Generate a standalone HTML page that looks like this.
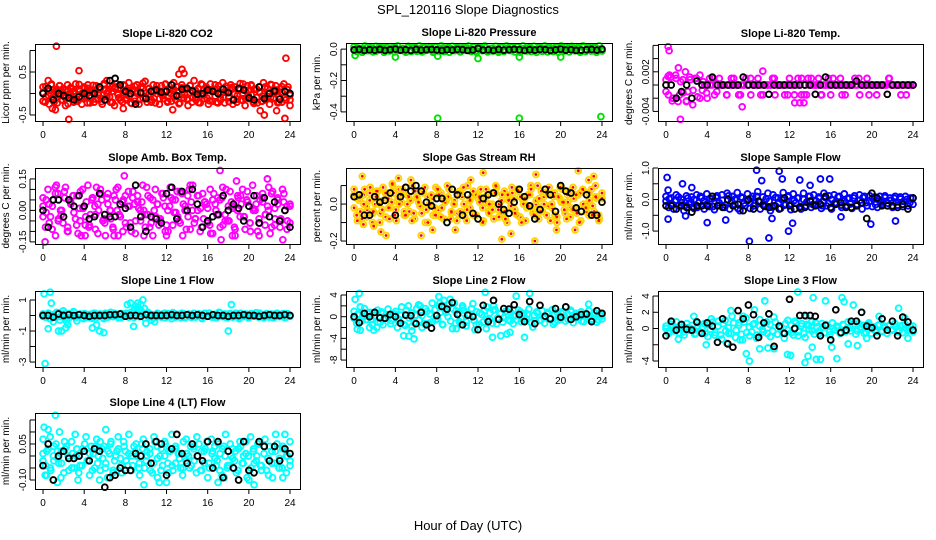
<!DOCTYPE html>
<html><head><meta charset="utf-8"><title>SPL_120116 Slope Diagnostics</title>
<style>
html,body{margin:0;padding:0;background:#fff;}
svg{display:block;font-family:"Liberation Sans",Arial,sans-serif;}
</style></head>
<body>
<svg id="chart" width="936" height="540" viewBox="0 0 936 540">
<text x="468" y="14" text-anchor="middle" font-size="13">SPL_120116  Slope Diagnostics</text>
<text x="468" y="530" text-anchor="middle" font-size="13">Hour of Day (UTC)</text>
</svg>
<script>
// ---------- data (hour-of-day series; x spread evenly over 0..24) ----------
const hourTicks=[0,4,8,12,16,20,24];
const hourLabels=["0","4","8","12","16","20","24"];

const p1Color=[0.15,-0.2,0.1,-0.25,0.2,-0.1,0.05,-0.22,0.18,-0.15,0.12,-0.28,0.2,-0.05,0.1,-0.2,0.22,-0.18,0.05,-0.25,0.15,-0.1,0.2,-0.22,0.08,-0.2,0.18,-0.12,0.1,-0.25,0.2,-0.15,0.05,-0.2,0.15,-0.28,0.22,-0.1,0.12,-0.2,0.18,-0.15,0.25,-0.22,0.1,-0.18,0.2,-0.25,0.15,-0.1,0.28,-0.2,0.12,-0.15,0.2,-0.22,0.08,-0.25,0.18,-0.12,0.22,-0.2,0.1,-0.18,0.25,-0.15,0.15,-0.22,0.2,-0.1,0.12,-0.28,0.18,-0.2,0.3,-0.15,0.1,-0.22,0.2,-0.12,0.15,-0.25,0.22,-0.18,0.1,-0.2,0.18,-0.15,0.25,-0.22,0.12,-0.1,0.2,-0.25,0.15,-0.2,0.1,-0.15,0.22,-0.28,0.18,-0.12,0.2,-0.2,0.1,-0.22,0.15,-0.18,0.25,-0.15,0.12,-0.25,0.2,-0.1,0.18,-0.22,0.1,-0.2,0.22,-0.15,0.15,-0.28];
const p1Fill=[0.02,-0.08,0.06,-0.12,0.0,0.1,-0.05,0.04,-0.1,0.08,-0.02,0.05,-0.14,0.1,0.0,-0.06,0.12,-0.1,0.03,0.07,-0.04,-0.12,0.09,0.01,-0.08,0.05,0.11,-0.03,-0.1,0.07,0.02,-0.06,0.09,-0.11,0.04,0.0,0.12,-0.08,-0.02,0.06,-0.12,0.1,0.03,-0.05,0.08,-0.1,0.0,0.11,-0.07,0.05,-0.03,0.09,-0.12,0.02,0.07,-0.09,0.12,-0.04,0.0,-0.1,0.08,0.04,-0.06,0.1,-0.11,0.03,0.06,-0.08,0.11,-0.02,-0.05,0.09,0.01,-0.12,0.07,-0.03,0.1,-0.09,0.04,-0.06,0.12,0.0,-0.1,0.05,0.08,-0.07,0.02,-0.11,0.09,-0.04];
const p1Fill2=[-0.18,0.16,-0.05,0.22,-0.2,0.04,0.18,-0.15,0.08,-0.24,0.14,0.0,-0.17,0.21,-0.09,0.12,-0.22,0.06,0.19,-0.13,0.02,-0.19,0.23,-0.07,0.1,-0.21,0.15,-0.02,-0.16,0.2,-0.11,0.07,-0.23,0.17,0.0,-0.14,0.24,-0.08,0.11,-0.2,0.05,0.18,-0.12,-0.03,0.21,-0.18,0.09,-0.06,0.16,-0.24,0.13,0.01,-0.15,0.19,-0.1,0.06,-0.21,0.22,-0.04,0.12,-0.17,0.08,0.2,-0.22,0.03,-0.09,0.17,-0.19,0.14,-0.01,-0.13,0.23,-0.16,0.07,-0.05,0.18,-0.23,0.1,0.02,-0.18,0.15,-0.07,0.21,-0.12,0.04,-0.2,0.16,-0.1,0.09,-0.15];
const p1OutX=[1.3,2.5,3.5,13.5,13.2,13.7,23.6,23.5,21.5,0.9,1.2,12.6,7.8,22.7,0.5,6.2,21.1];
const p1OutY=[1.1,-0.6,0.53,0.56,0.45,0.47,0.82,-0.58,-0.5,-0.35,-0.38,-0.38,-0.35,-0.4,0.3,0.3,-0.4];
const p1Black=[0.0,0.12,-0.15,0.0,-0.05,-0.1,-0.15,-0.08,0.0,-0.05,0.0,0.15,-0.15,0.3,0.35,0.2,0.05,0.0,-0.25,0.02,-0.12,0.05,0.08,0.03,0.05,0.2,-0.05,0.1,0.12,0.06,-0.02,0.0,0.08,0.05,0.0,0.1,0.02,-0.15,0.12,0.08,-0.1,-0.15,0.15,-0.12,0.0,0.06,-0.13,0.05,0.0];

const p2Color=[0.015,-0.015,0.005,-0.02,0.02,-0.01,0.01,-0.018,0.018,-0.005,0.012,-0.02,0.015,-0.012,0.008,-0.018,0.02,-0.008,0.005,-0.02,0.018,-0.015,0.012,-0.01,0.02,-0.018,0.01,-0.005,0.015,-0.02,0.012,-0.012,0.02,-0.015,0.008,-0.02,0.018,-0.01,0.015,-0.018,0.01,-0.008,0.02,-0.015,0.012,-0.02,0.015,-0.01,0.02,-0.018,0.005,-0.012,0.018,-0.02,0.01,-0.015,0.02,-0.008,0.012,-0.018,0.015,-0.02,0.02,-0.01,0.008,-0.015,0.018,-0.02,0.012,-0.012,0.02,-0.018,0.01,-0.015,0.015,-0.02,0.02,-0.008,0.012,-0.018,0.018,-0.01,0.01,-0.02,0.02,-0.015,0.015,-0.012,0.012,-0.02,0.02,-0.01];
const p2Fill=[-0.005,0.008,-0.012,0.0,0.01,-0.008,0.004,-0.014,0.012,-0.002,0.006,-0.01,0.0,0.014,-0.006,0.002,-0.012,0.01,-0.004,0.008,-0.014,0.004,0.012,-0.008,0.0,-0.01,0.014,-0.004,0.006,-0.012,0.01,0.002,-0.008,0.012,-0.014,0.0,0.008,-0.006,0.014,-0.01,0.004,-0.002,0.01,-0.012,0.006,0.0,-0.014,0.012,-0.004,0.008,-0.01,0.002,0.014,-0.008,0.004,-0.012,0.01,0.0,-0.006,0.012,-0.014,0.006,0.008,-0.01,0.002,-0.004,0.014,-0.012,0.0,0.01,-0.008,0.004,-0.014,0.012,-0.002,0.006,-0.01,0.008,0.0,-0.012];
const p2OutX=[0.1,4.0,8.1,12.0,16.0,20.0,8.1,16.0,23.9];
const p2OutY=[-0.04,-0.05,-0.045,-0.06,-0.05,-0.05,-0.44,-0.44,-0.43];
const p2Black=[-0.005,-0.002,-0.008,-0.004,-0.006,-0.002,-0.008,-0.004,0.0,-0.006,-0.004,-0.008,-0.002,-0.006,-0.004,-0.002,-0.005,-0.008,-0.004,-0.006,-0.002,-0.004,-0.008,-0.005,0.004,-0.006,-0.004,-0.008,-0.002,-0.006,-0.004,-0.002,-0.003,-0.008,-0.004,-0.006,-0.002,-0.004,-0.008,-0.005,0.0,-0.006,-0.004,-0.008,-0.006,-0.004,-0.002,-0.006,0.0];

const p3Color=[0.0008,-0.0015,0.0012,-0.002,0.0015,-0.0025,0.0005,-0.0012,0.002,-0.001,0.0008,-0.003,0.001,-0.0018,0.0015,-0.0008,0.0,-0.002,0.001,0.0,-0.0015,0.0,0.001,0,0,-0.0015,0,0.001,0,0,-0.0015,0,0,0.001,0,-0.0015,0,0,0.001,0,-0.0015,0,0,0,0.001,-0.0015,0,0,0,-0.0015,0,0.001,0,-0.0015,0,0,0.001,-0.0015,-0.0015,0,0.001,0,0,0.001,-0.0015,0,0,0,-0.0015,0.001,0,0,0.001,0,-0.0015,0,0,0,0.001,0,-0.0015,0,0,0.001,0,0,0,-0.0015,0,0,0,0,0.001,0,0,0,0,-0.0015,0,0,0,0,0];
const p3Fill=[-0.001,0.0015,-0.002,0.001,-0.0015,0.0008,-0.0025,0.0012,-0.0008,0.001,-0.002,0.0005,-0.0012,0,0.001,-0.001,0,0,-0.0015,0,0.001,0,-0.0015,0,0,0.001,0,0,-0.0015,0,0,0,0.001,0,0,0,-0.0015,0,0,0.001,-0.0015,0,0.001,0,0,0,-0.0015,0,0.001,0,0,0,-0.0015,0,0,0,0,0.001,0,0,-0.0015,0,0,0,0,0,0.001,0,0,0,0,-0.0015,0,0];
const p3OutX=[0.2,0.3,1.4,7.4,9.4,1.2,12.5,13.0,13.4,0.6,2.0,0.2];
const p3OutY=[0.0058,0.0052,-0.0052,-0.0033,0.0021,0.0026,-0.0027,-0.0027,-0.0027,-0.0024,-0.0024,0.0013];
const p3Black=[0,0,-0.002,-0.001,0,-0.002,0.0006,0,0,0.0012,0,0,0,0,0,0.0012,0,0,0,0,-0.0014,0,0,0,0,0,0,0,0,-0.0014,0,0.0012,0,0,0,0,0,0.0006,0,0,0,0,0,-0.0014,0,0,0,0,0];

const p4Color=[0.02,-0.08,0.1,-0.03,0.05,-0.12,0.08,0.0,-0.06,0.11,-0.1,0.04,0.07,-0.04,-0.11,0.09,0.01,-0.07,0.12,-0.02,0.06,-0.09,0.03,0.1,-0.05,-0.12,0.08,0.0,-0.08,0.05,0.11,-0.03,-0.1,0.07,0.02,-0.06,0.09,-0.11,0.04,0.0,0.12,-0.08,-0.02,0.06,-0.12,0.1,0.03,-0.05,0.08,-0.1,0.0,0.11,-0.07,0.05,-0.03,0.09,-0.12,0.02,0.07,-0.09,0.12,-0.04,0.0,-0.1,0.08,0.04,-0.06,0.1,-0.11,0.03,0.06,-0.08,0.11,-0.02,-0.05,0.09,0.01,-0.12,0.07,-0.03,0.1,-0.09,0.04,-0.06,0.12,0.0,-0.1,0.05,0.08,-0.07,0.02,-0.11,0.09,-0.04,0.06,-0.08,0.1,0.0,-0.05,0.03];
const p4Fill=[-0.03,0.05,-0.06,0.02,0.08,-0.04,0.0,0.06,-0.08,0.03,-0.01,0.07,-0.05,0.01,0.04,-0.07,0.06,-0.02,0.0,0.05,-0.06,0.03,-0.04,0.07,0.0,-0.03,0.05,-0.08,0.02,0.06,-0.05,0.01,0.04,-0.02,0.07,-0.06,0.0,0.03,-0.04,0.06,-0.07,0.02,0.05,-0.01,-0.05,0.08,0.0,-0.03,0.04,-0.06,0.07,0.01,-0.04,0.03,-0.07,0.05,0.0,-0.02,0.06,-0.05,0.02,0.04,-0.08,0.0,0.07,-0.03,0.05,-0.06,0.01,0.03,-0.04,0.06,-0.02,0.0,0.08,-0.07,0.03,-0.05,0.04,0.02,-0.06];
const p4Fill2=[0.06,-0.01,0.03,-0.09,0.11,-0.05,-0.02,0.09,-0.1,0.04,0.07,-0.07,0.01,0.1,-0.03,-0.08,0.05,0.02,-0.11,0.08,-0.04,0.06,0.0,-0.09,0.1,-0.02,0.04,-0.06,0.09,-0.1,0.03,0.07,-0.05,0.0,0.11,-0.08,0.05,-0.03,-0.07,0.08,0.02,-0.1,0.06,-0.01,0.09,-0.06,0.03,-0.09,0.1,0.0,-0.04,0.07,-0.08,0.04,0.01,-0.11,0.08,-0.02,0.05,-0.07,0.1,-0.05,0.02,-0.09,0.06,0.03,-0.03,0.09,-0.1,0.0,0.07,-0.06,0.04,-0.02,0.11,-0.08,0.01,0.05,-0.04,0.08,-0.09,0.02];
const p4OutX=[17.2,0.2,7.9,21.8,18.8,1.3,5.2,3.7,4.1,6.9,7.3,17.3,18.4,23.3,21.0,12.0,9.8,14.3];
const p4OutY=[0.19,-0.15,0.165,0.15,0.14,0.12,0.11,-0.12,-0.12,-0.12,-0.12,-0.14,-0.12,-0.14,-0.12,-0.12,-0.12,0.12];
const p4Black=[0.0,-0.08,0.05,0.05,-0.03,0.05,0.02,0.07,0.02,-0.04,-0.03,0.08,-0.02,-0.03,-0.03,0.03,0.01,-0.08,0.12,-0.03,-0.1,-0.03,-0.04,-0.06,0.08,0.11,-0.04,0.09,0.0,0.1,0.03,-0.08,-0.05,-0.03,-0.02,0.07,0.0,0.03,0.01,-0.05,0.02,0.07,-0.06,0.06,-0.03,0.04,-0.05,0.0,-0.08];

const p5Color=[0.05,-0.06,0.02,-0.08,0.08,-0.03,0.06,-0.1,0.0,0.07,-0.05,0.09,-0.07,0.03,-0.02,0.06,-0.09,0.08,0.01,-0.06,0.05,-0.04,0.1,-0.08,0.03,-0.01,0.07,-0.1,0.04,0.0,-0.06,0.09,-0.03,0.06,-0.08,0.02,0.08,-0.05,0.0,-0.09,0.07,0.04,-0.07,0.1,-0.02,0.05,-0.06,0.03,0.08,-0.09,0.01,-0.04,0.06,-0.08,0.09,0.0,-0.05,0.07,-0.1,0.03,0.06,-0.03,0.08,-0.07,0.02,-0.09,0.05,0.1,-0.04,0.0,-0.08,0.07,0.04,-0.06,0.09,-0.02,0.06,-0.1,0.03,0.08,-0.05,0.01,-0.07,0.09,-0.03,0.05,-0.09,0.07,0.0,-0.06,0.08,-0.04,0.03,-0.08,0.06];
const p5Fill=[-0.02,0.03,-0.04,0.05,-0.01,0.02,-0.05,0.04,0.0,-0.03,0.06,-0.02,0.01,-0.06,0.03,0.05,-0.04,0.0,0.02,-0.05,0.04,-0.01,0.06,-0.03,0.0,0.03,-0.06,0.05,-0.02,0.01,0.04,-0.04,0.02,-0.05,0.06,0.0,-0.03,0.03,-0.06,0.05,0.01,-0.02,0.04,-0.05,0.0,0.06,-0.03,0.02,-0.04,0.05,-0.01,0.03,-0.06,0.04,0.0,-0.02,0.05,-0.05,0.02,0.03,-0.04,0.06,-0.01,0.0,-0.06,0.04,0.01,-0.03,0.05,-0.02,0.03,-0.05,0.06,0.0,-0.04,0.02,-0.01,0.04,-0.06,0.03];
const p5Fill2=[0.08,-0.09,0.04,0.0,-0.07,0.09,-0.04,0.07,-0.1,0.02,0.06,-0.08,0.1,-0.03,0.0,0.08,-0.06,0.04,-0.09,0.07,0.01,-0.05,0.09,-0.1,0.05,-0.02,0.08,-0.07,0.03,0.1,-0.08,0.0,0.06,-0.04,0.09,-0.09,0.02,0.07,-0.06,0.04,-0.1,0.08,0.0,-0.03,0.1,-0.07,0.05,-0.08,0.02,0.09,-0.05,0.07,-0.1,0.03,-0.01,0.08,-0.06,0.1,-0.04,0.0,0.06,-0.09,0.04,-0.07,0.09,0.01,-0.08,0.07,-0.03,0.05,-0.1,0.08,-0.02,0.06,-0.06,0.1,-0.09,0.03];
const p5OutX=[0.8,1.9,2.6,3.1,6.5,7.6,14.3,15.2,17.5,17.6,21.7,22.7,23.2,3.7,5.5,4.3,11.3,12.5,19.6,21.4,9.8,0.9];
const p5OutY=[0.15,-0.12,-0.15,-0.17,-0.17,-0.14,-0.19,-0.16,-0.2,0.16,0.18,0.13,0.15,0.11,0.13,0.14,0.13,0.17,-0.14,-0.14,-0.14,-0.11];
const p5Black=[0.04,0.05,-0.06,-0.06,0.04,0.01,0.02,0.06,-0.06,0.04,0.09,0.07,0.1,0.07,0.01,-0.01,0.03,0.03,-0.1,0.08,0.05,-0.06,0.05,-0.05,-0.08,0.03,0.05,0.06,0.0,-0.03,-0.05,0.01,0.08,0.04,-0.01,-0.08,-0.03,0.08,0.05,-0.04,0.1,0.07,0.06,-0.02,-0.04,0.05,-0.06,-0.06,0.01];

const p6Color=[0.1,-0.25,0.05,-0.3,0.15,-0.2,0.0,-0.35,0.12,-0.15,0.08,-0.28,0.15,-0.1,0.05,-0.3,0.18,-0.22,0.02,-0.32,0.12,-0.18,0.15,-0.25,0.2,-0.3,0.1,-0.15,0.22,-0.35,0.05,-0.2,0.18,-0.28,0.1,-0.12,0.25,-0.3,0.08,-0.22,0.2,-0.35,0.15,-0.2,0.05,-0.28,0.22,-0.15,0.12,-0.32,0.18,-0.1,0.05,-0.3,0.2,-0.2,0.1,-0.25,0.15,-0.15,0.08,-0.28,0.2,-0.2,0.12,-0.3,0.15,-0.12,0.1,-0.25,0.18,-0.2,0.05,-0.28,0.12,-0.15,0.15,-0.3,0.1,-0.2,0.12,-0.22,0.08,-0.25,0.1,-0.15,0.12,-0.2,0.05,-0.25,0.1,-0.18,0.08,-0.22,0.1,-0.2,0.05,-0.15];
const p6Fill=[-0.05,0.02,-0.15,-0.02,0.08,-0.1,-0.2,0.05,-0.08,0.0,-0.25,0.1,-0.05,-0.15,0.03,-0.22,0.06,-0.1,-0.02,-0.18,0.12,-0.06,0.0,-0.28,0.08,-0.12,-0.04,0.04,-0.2,0.1,-0.08,-0.16,0.02,-0.05,-0.24,0.06,-0.1,0.0,-0.18,0.08,-0.14,-0.03,0.05,-0.22,0.0,-0.08,0.1,-0.16,-0.04,0.04,-0.2,0.06,-0.12,0.0,-0.1,0.08,-0.18,-0.05,0.03,-0.14,0.05,-0.2,-0.02,0.06,-0.1,-0.06,0.04,-0.16,0.0,-0.08,0.06,-0.12,-0.02,0.04,-0.18,0.02,-0.06,0.0,-0.1,0.05];
const p6OutX=[0.1,0.2,0.2,1.6,2.5,8.8,11.0,11.3,13.0,15.0,15.9,9.3,14.0,8.1,10.0,11.9,12.3,4.0,5.8,19.9,22.3,1.9,10.3,17.0];
const p6OutY=[0.7,0.3,-0.62,0.5,0.38,0.93,0.9,0.65,0.62,0.65,0.65,0.6,0.45,-1.32,-1.22,-1.0,-0.75,-0.73,-0.65,-0.78,-0.68,-0.52,-0.6,-0.55];
const p6Black=[-0.2,-0.2,-0.3,-0.2,-0.25,-0.4,-0.2,-0.2,-0.2,0.1,-0.2,-0.25,0.0,-0.2,-0.15,-0.35,0.0,-0.3,-0.05,-0.2,-0.25,-0.2,-0.3,0.05,-0.2,-0.3,-0.25,-0.25,-0.05,-0.2,-0.15,0.1,-0.25,-0.15,-0.1,-0.25,-0.25,-0.2,-0.1,-0.6,0.2,0.05,-0.2,-0.2,-0.2,-0.25,-0.15,-0.3,0.05];

const p7Color=[0.1,-0.1,0.15,-0.2,0.05,-0.12,0.18,-0.08,0.1,-0.15,0.12,-0.05,0.2,-0.1,0.05,-0.15,0.12,-0.1,0.08,-0.18,0.15,-0.05,0.1,-0.12,0.15,-0.1,0.2,-0.08,0.1,-0.15,0.12,-0.05,0.15,-0.1,0.08,-0.12,0.18,-0.08,0.1,-0.15,0.12,-0.1,0.05,-0.12,0.15,-0.08,0.1,-0.15,0.12,-0.05,0.18,-0.1,0.08,-0.15,0.12,-0.1,0.1,-0.12,0.15,-0.08,0.1,-0.15,0.12,-0.05,0.15,-0.1,0.08,-0.12,0.18,-0.08,0.1,-0.15,0.12,-0.1,0.05,-0.12,0.15,-0.08,0.1,-0.15,0.12,-0.05,0.18,-0.1,0.08,-0.15,0.12,-0.1,0.1,-0.12,0.15,-0.08,0.1,-0.15,0.12,-0.05];
const p7Fill=[-0.05,0.05,-0.2,0.0,0.2,-0.3,0.3,-0.4,-0.1,0.25,-0.35,0.1,-0.2,0.05,-0.15,0.15,-0.1,0.0,-0.2,0.1,-0.05,0.15,0.0,-0.15,0.1,-0.05,0.2,0.4,0.5,0.3,0.45,0.2,-0.3,-0.4,0.05,-0.1,0.15,0.0,-0.2,0.1,-0.05,0.15,-0.15,0.05,0.0,-0.1,0.1,-0.2,0.15,-0.05,0.05,-0.15,0.2,0.0,-0.1,0.1,-0.05,0.15,-0.2,0.05,0.0,-0.12,0.1,-0.05,0.15,-0.1,0.0,0.08,-0.15,0.05,-0.05,0.12,-0.1,0.0];
const p7OutX=[0.1,0.7,0.8,0.2,0.5,1.5,1.8,2.2,2.4,4.8,5.2,5.5,5.9,18.0,18.3,9.7,8.5,9.2,9.5,8.8,10.0,9.0,8.2,1.0];
const p7OutY=[1.4,1.5,0.8,-3.1,-0.85,-1.0,-1.0,-0.8,-0.6,-0.8,-0.6,-1.0,-1.1,-1.0,0.7,1.0,0.8,0.8,0.7,-0.7,-0.5,0.6,0.7,-0.4];
const p7Black=[0.0,0.0,-0.1,0.1,0.0,0.05,0.0,0.05,0.0,-0.05,0.0,0.0,0.0,0.05,0.05,0.1,-0.05,0.0,0.0,-0.05,0.05,0.0,0.0,0.0,0.0,0.05,0.0,0.0,0.05,0.0,0.05,0.0,-0.05,0.05,0.0,0.0,-0.05,0.0,0.0,0.05,0.0,0.0,-0.05,0.0,0.05,0.0,0.0,0.05,0.0];

const p8Color=[1.0,-1.2,0.5,-0.8,1.5,-0.5,0.8,-1.5,0.2,1.2,-1.0,0.6,-0.3,1.4,-1.3,0.4,1.0,-0.7,0.3,-1.4,1.2,-0.2,0.7,-1.1,1.5,-0.6,0.2,-1.3,1.0,0.5,-0.9,1.3,-0.4,0.8,-1.5,1.1,0.0,-0.8,1.4,-1.2,0.6,-0.3,1.2,-1.0,0.3,1.5,-0.7,0.9,-1.4,0.4,1.1,-0.5,0.7,-1.2,1.3,-0.2,0.5,-1.0,1.0,-0.6,0.8,-1.3,0.2,1.2,-0.9,0.6,-0.4,1.4,-1.1,0.3,0.9,-0.7,1.1,-1.2,0.5,-0.3,1.3,-1.0,0.7,-0.5,1.0,-0.8,0.4,1.2,-1.1,0.6,-0.2,0.9,-0.9,0.3,1.1,-0.6,0.8,-1.0,0.5,-0.4];
const p8Fill=[-0.3,0.4,-0.8,0.0,0.6,-0.5,0.2,-1.0,0.9,-0.2,0.0,-0.7,0.5,-0.4,1.8,-1.6,2.0,-1.8,0.3,2.2,-2.0,1.5,-1.2,2.5,-0.6,1.9,-1.4,0.8,2.3,-2.2,1.1,-0.9,1.6,-1.7,0.4,2.4,-1.5,0.7,-1.0,1.8,-0.5,1.2,-1.3,0.6,-0.2,1.0,-0.8,0.3,-0.6,0.9,-0.4,0.5,-1.0,0.2,0.7,-0.6,0.0,0.8,-0.3,0.4,-0.7,0.6,0.1,-0.5,0.9,-0.2,0.3,-0.8,0.5,0.0,-0.4,0.6,-0.6,0.2];
const p8OutX=[0.1,0.5,0.6,0.3,0.6,1.5,1.9,2.2,2.8,4.2,4.8,5.3,5.6,5.8,6.4,8.2,8.7,9.3,9.9,10.5,12.7,13.4,13.5,14.2,14.8,15.1,15.7,16.5,17.0,17.3,19.3,22.7,8.3,9.7,11.7,12.8];
const p8OutY=[3.2,4.3,1.8,-2.3,-2.5,-2.0,-2.5,-2.0,-1.5,-2.0,-3.5,-3.6,-2.6,-4.1,2.0,3.7,3.0,3.2,-2.2,2.0,4.5,-3.8,2.0,-3.5,-3.2,-2.9,3.8,-3.8,4.3,-1.9,-1.4,2.3,2.5,2.5,-2.4,-2.2];
const p8Black=[0.0,-1.1,0.6,0.0,0.8,-0.2,-0.3,0.4,0.0,-1.2,0.3,0.2,-1.3,0.8,-1.5,-2.1,0.2,1.9,1.4,2.6,0.4,-1.5,0.3,0.0,-2.4,2.1,-0.9,3.0,-0.5,1.5,1.4,2.2,0.4,-0.9,2.8,-1.3,2.1,0.1,-0.4,1.5,-0.1,1.8,-0.5,0.0,0.4,0.5,-0.9,1.1,0.6];

const p9Color=[0.3,-0.6,0.5,-0.3,0.8,-0.5,0.1,-0.8,0.6,-0.2,0.4,-0.7,0.7,-0.4,0.2,-0.6,0.5,-0.1,0.8,-0.5,0.3,-0.8,0.6,-0.3,0.1,-0.6,0.7,-0.2,0.4,-0.7,0.8,-0.5,0.2,-0.4,0.6,-0.8,0.3,-0.1,0.7,-0.6,0.5,-0.3,0.8,-0.7,0.1,-0.5,0.6,-0.2,0.4,-0.8,0.7,-0.4,0.3,-0.6,0.5,-0.1,0.8,-0.7,0.2,-0.3,0.6,-0.5,0.4,-0.8,0.7,-0.2,0.1,-0.6,0.5,-0.4,0.8,-0.3,0.3,-0.7,0.6,-0.1,0.4,-0.5,0.7,-0.6,0.2,-0.4,0.5,-0.3,0.3,-0.6,0.4,-0.2,0.6,-0.4,0.3,-0.5,0.5,-0.3,0.2,-0.4];
const p9Fill=[0.0,-0.3,0.2,-0.1,0.4,-0.4,0.1,0.0,-0.2,0.3,-0.5,0.6,-1.0,1.2,-0.8,0.9,-1.3,1.0,-0.6,1.5,-1.1,0.7,-1.4,1.3,-0.9,0.5,-1.2,1.1,-0.4,0.8,-1.0,1.4,-0.7,0.3,-1.2,1.0,-0.5,0.9,-0.9,0.6,-1.1,0.4,-0.3,0.7,-0.6,0.2,0.5,-0.4,0.0,0.3,-0.5,0.4,-0.2,0.1,0.6,-0.3,0.2,-0.6,0.5,0.0,-0.2,0.4,-0.4,0.1,0.3,-0.1,0.2,-0.3,0.4,0.0,-0.2,0.3];
const p9OutX=[0.6,1.2,2.7,2.9,3.9,5.9,6.3,7.2,7.5,7.8,8.1,8.6,9.1,9.6,9.9,10.5,11.8,12.1,12.8,13.5,13.8,14.2,14.6,15.0,15.5,16.1,16.6,17.1,17.3,17.7,18.2,18.6,19.0,19.5,20.7,22.6,23.2,23.5,13.6,14.3];
const p9OutY=[0.8,-1.3,1.5,-0.6,-2.0,-1.8,2.2,-1.4,1.5,-3.1,-4.0,2.3,-2.5,3.4,-2.4,-2.5,-3.2,-3.3,4.5,-4.2,-3.4,-2.3,-3.8,-3.8,3.4,-2.3,-3.7,3.8,3.3,-1.9,2.9,-2.1,2.0,-1.2,1.5,2.5,1.3,-1.2,1.5,3.8];
const p9Black=[-0.9,0.9,-0.2,0.5,-0.1,-0.2,0.8,-0.6,0.7,0.3,-1.7,1.2,-1.9,-2.3,2.2,1.2,2.9,1.7,-1.1,0.7,1.8,-2.2,0.3,-0.6,3.6,0.0,1.6,1.6,1.6,1.5,-0.9,0.4,-1.4,2.3,-0.5,-0.2,0.9,0.9,2.0,0.3,0.1,-0.9,1.2,-0.2,0.9,-0.9,1.4,0.8,-0.2];

const p10Color=[0.01,-0.04,0.03,-0.06,0.0,0.05,-0.03,0.02,-0.07,0.04,-0.01,0.06,-0.05,0.03,0.0,-0.04,0.05,-0.02,0.01,-0.06,0.04,-0.03,0.06,-0.01,-0.05,0.02,0.05,-0.07,0.0,0.03,-0.04,0.06,-0.02,0.01,-0.06,0.04,0.0,-0.03,0.05,-0.05,0.02,0.03,-0.07,0.06,-0.01,0.0,-0.04,0.05,-0.03,0.02,-0.06,0.04,0.01,-0.05,0.06,-0.02,0.0,-0.04,0.03,-0.07,0.05,0.02,-0.03,0.06,-0.05,0.01,0.04,-0.02,-0.06,0.03,0.0,-0.04,0.05,-0.01,0.02,-0.06,0.04,-0.03,0.06,0.0,-0.05,0.03,-0.02,0.05,-0.04,0.01,-0.06,0.04,0.02,-0.03,0.05,-0.01,-0.05,0.03,0.0,-0.04];
const p10Fill=[0.07,-0.08,0.08,-0.02,0.02,-0.09,0.06,0.0,-0.05,0.09,-0.07,0.03,0.08,-0.08,0.01,0.07,-0.06,0.04,-0.09,0.06,-0.02,0.08,-0.07,0.02,0.09,-0.04,0.05,-0.08,0.07,0.0,-0.06,0.08,-0.09,0.03,0.06,-0.07,0.09,-0.03,0.01,-0.08,0.07,-0.05,0.04,0.08,-0.06,0.02,-0.09,0.07,-0.01,0.05,-0.08,0.09,-0.04,0.03,-0.07,0.06,0.0,-0.09,0.08,-0.03,0.05,-0.06,0.07,-0.08,0.02,0.09,-0.05,0.04,-0.07,0.06];
const p10Fill2=[-0.02,0.02,-0.05,0.04,-0.01,-0.03,0.03,-0.06,0.01,0.0,-0.04,0.02,-0.02,0.04,-0.05,0.0,0.03,-0.03,0.01,-0.06,0.02,-0.01,0.04,-0.04,0.0,0.02,-0.05,0.03,-0.02,0.01,-0.03,0.04,-0.06,0.0,0.02,-0.04,0.03,-0.01,-0.05,0.01,0.04,-0.02,0.0,-0.06,0.03,-0.03,0.02,-0.04,0.01,0.04,-0.05,0.0,-0.02,0.03,-0.03,0.01,-0.06,0.02,0.0,-0.04,0.04,-0.01,-0.03,0.02,-0.05,0.03,0.0,-0.02];
const p10OutX=[0.1,1.2,0.5,1.4,1.6,0.2,9.8,11.3,12.0,17.0,17.6,20.5,22.3,23.3,20.0,23.5,5.5,6.1,3.4];
const p10OutY=[0.12,0.17,0.11,-0.11,0.1,-0.08,-0.12,-0.11,-0.11,-0.11,-0.09,-0.12,-0.09,-0.09,-0.1,0.09,-0.1,0.11,-0.1];
const p10Black=[-0.04,0.05,-0.1,0.0,0.02,-0.01,-0.01,0.0,0.02,-0.02,0.03,0.02,-0.13,-0.09,-0.08,-0.05,-0.06,-0.06,0.01,0.0,0.05,-0.03,0.06,0.05,-0.08,0.03,0.09,0.01,-0.03,0.05,0.0,-0.02,0.06,-0.05,0.06,-0.09,0.02,-0.05,-0.1,0.06,-0.06,-0.07,0.06,0.04,-0.02,0.04,-0.02,0.03,0.01];

// ---------- layout (not data) ----------
const panels=[
 {name:"co2",title:"Slope Li-820 CO2",ylab:"Licor ppm per min.",box:[35,44,300,121],ymin:-0.64,ymax:1.151,ticks:[-0.5,0,0.5,1],labels:{"-0.5":"-0.5","0.5":"0.5"},color:"#ff0000",series:[p1Color,p1Fill,p1Fill2],ox:p1OutX,oy:p1OutY,black:p1Black},
 {name:"pressure",title:"Slope Li-820 Pressure",ylab:"kPa per min.",box:[346,43,612,121],ymin:-0.458,ymax:0.039,ticks:[0,-0.1,-0.2,-0.3,-0.4],labels:{"0":"0.0","-0.2":"-0.2","-0.4":"-0.4"},color:"#00e000",series:[p2Color,p2Fill],ox:p2OutX,oy:p2OutY,black:p2Black},
 {name:"temp",title:"Slope Li-820 Temp.",ylab:"degrees C per min.",box:[658,44,923,121],ymin:-0.00545,ymax:0.00621,ticks:[0.006,0.004,0.002,0,-0.002,-0.004],labels:{"0.002":"0.002","-0.004":"-0.004"},color:"#ff00ff",series:[p3Color,p3Fill],ox:p3OutX,oy:p3OutY,black:p3Black},
 {name:"amb-box-temp",title:"Slope Amb. Box Temp.",ylab:"degrees C per min.",box:[35,168,300,244],ymin:-0.16,ymax:0.202,ticks:[0.15,0.1,0.05,0,-0.05,-0.1,-0.15],labels:{"0.15":"0.15","0":"0.00","-0.15":"-0.15"},color:"#ff00ff",series:[p4Color,p4Fill,p4Fill2],ox:p4OutX,oy:p4OutY,black:p4Black},
 {name:"gas-stream-rh",title:"Slope Gas Stream RH",ylab:"percent per min.",box:[346,168,612,244],ymin:-0.216,ymax:0.195,ticks:[0.1,0,-0.1,-0.2],labels:{"0":"0.0","-0.2":"-0.2"},color:"#ffd400",inner:"#ff0000",series:[p5Color,p5Fill,p5Fill2],ox:p5OutX,oy:p5OutY,black:p5Black},
 {name:"sample-flow",title:"Slope Sample Flow",ylab:"ml/min per min.",box:[658,168,923,244],ymin:-1.41,ymax:1.0,ticks:[1,0.5,0,-0.5,-1],labels:{"1":"1.0","0":"0.0","-1":"-1.0"},color:"#0000ff",series:[p6Color,p6Fill],ox:p6OutX,oy:p6OutY,black:p6Black},
 {name:"line1-flow",title:"Slope Line 1 Flow",ylab:"ml/min per min.",box:[35,291,300,367],ymin:-3.32,ymax:1.58,ticks:[1,0,-1,-2,-3],labels:{"1":"1","-1":"-1","-3":"-3"},color:"#00ffff",series:[p7Color,p7Fill],ox:p7OutX,oy:p7OutY,black:p7Black},
 {name:"line2-flow",title:"Slope Line 2 Flow",ylab:"ml/min per min.",box:[346,291,612,367],ymin:-9.28,ymax:4.74,ticks:[4,2,0,-2,-4,-6,-8],labels:{"4":"4","0":"0","-4":"-4","-8":"-8"},color:"#00ffff",series:[p8Color,p8Fill],ox:p8OutX,oy:p8OutY,black:p8Black},
 {name:"line3-flow",title:"Slope Line 3 Flow",ylab:"ml/min per min.",box:[658,291,923,367],ymin:-4.74,ymax:4.62,ticks:[4,2,0,-2,-4],labels:{"4":"4","2":"2","0":"0","-4":"-4"},color:"#00ffff",series:[p9Color,p9Fill],ox:p9OutX,oy:p9OutY,black:p9Black},
 {name:"line4-flow",title:"Slope Line 4 (LT) Flow",ylab:"ml/min per min.",box:[35,413,300,489],ymin:-0.1375,ymax:0.179,ticks:[0.15,0.1,0.05,0,-0.05,-0.1],labels:{"0.05":"0.05","-0.1":"-0.10"},color:"#00ffff",series:[p10Color,p10Fill,p10Fill2],ox:p10OutX,oy:p10OutY,black:p10Black}
];

const NS="http://www.w3.org/2000/svg";
const svg=document.getElementById("chart");
const XMIN=-0.78, XMAX=24.97;
function mk(tag,attrs,parent){const e=document.createElementNS(NS,tag);for(const k in attrs)e.setAttribute(k,attrs[k]);parent.appendChild(e);return e;}

panels.forEach(p=>{
  const [x0,y0,x1,y1]=p.box;
  const g=mk("g",{},svg);
  
  
  const xs=h=>x0+(h-XMIN)/(XMAX-XMIN)*(x1-x0);
  const ys=v=>y1-(v-p.ymin)/(p.ymax-p.ymin)*(y1-y0);
  const t=mk("text",{x:(x0+x1)/2,y:y0-7,"text-anchor":"middle","font-size":"11","font-weight":"bold"},g);
  t.textContent=p.title;
  
  
  const yl=mk("text",{x:0,y:0,"text-anchor":"middle","font-size":"10",transform:`translate(${x0-26},${(y0+y1)/2}) rotate(-90)`},g);
  yl.textContent=p.ylab;
  
  
  const pts=mk("g",{},g);
  
  
  const dot=(h,v,col,inner)=>{
    const c=mk("circle",{cx:xs(h).toFixed(1),cy:ys(v).toFixed(1),r:2.9,fill:"none",stroke:col,"stroke-width":1.9},pts);
    
    
    if(inner){const d=mk("circle",{cx:xs(h).toFixed(1),cy:ys(v).toFixed(1),r:1.4,fill:inner},pts);
      
      }
  };
  p.series.forEach(arr=>{arr.forEach((v,i)=>{const h=i*24/(arr.length-1);dot(h,v,p.color,p.inner);});});
  p.ox.forEach((h,i)=>dot(h,p.oy[i],p.color,p.inner));
  p.black.forEach((v,i)=>{const h=i*24/(p.black.length-1);dot(h,v,"#000",null);});
  const b=mk("rect",{x:x0+0.5,y:y0+0.5,width:x1-x0,height:y1-y0,fill:"none",stroke:"#000","stroke-width":1},g);
  
  
  mk("line",{x1:xs(hourTicks[0]),x2:xs(hourTicks[hourTicks.length-1]),y1:y1+0.5,y2:y1+0.5,stroke:"#000"},g);
  hourTicks.forEach((h,i)=>{
    mk("line",{x1:xs(h),x2:xs(h),y1:y1,y2:y1+5,stroke:"#000"},g);
    const tl=mk("text",{x:xs(h),y:y1+17,"text-anchor":"middle","font-size":"10"},g);
    tl.textContent=hourLabels[i];
    
    
  });
  const tv=p.ticks.map(ys);
  mk("line",{x1:x0-5,x2:x0-5,y1:Math.min(...tv),y2:Math.max(...tv),stroke:"#000"},g);
  p.ticks.forEach(v=>{
    const y=ys(v);
    mk("line",{x1:x0-5,x2:x0,y1:y,y2:y,stroke:"#000"},g);
    const lab=p.labels[String(v)];
    if(lab!==undefined){
      const yt=mk("text",{x:0,y:0,"text-anchor":"middle","font-size":"10",transform:`translate(${x0-9},${y}) rotate(-90)`},g);
      yt.textContent=lab;
      
      
    }
  });
});
</script>
</body></html>
